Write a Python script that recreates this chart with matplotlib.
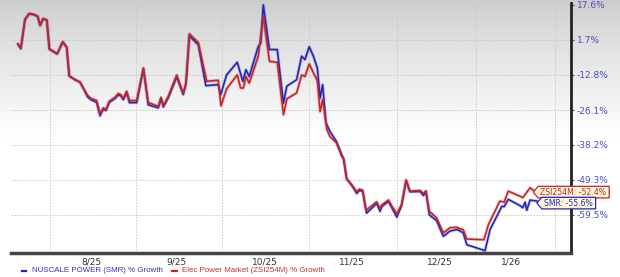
import numpy as np
import matplotlib
matplotlib.use("Agg")
import matplotlib.pyplot as plt
import matplotlib.patheffects as pe
from matplotlib.patches import Polygon
from matplotlib.lines import Line2D

# ---- data (x = days from mid July 2025, y = % growth) ----
smr_x = [2.5, 3.5, 5.0, 6.5, 8.0, 9.5, 10.4, 11.5, 12.8, 13.7, 16.5, 18.5, 19.9, 20.8,
         22.9, 24.6, 25.8, 27.3, 28.5, 30.6, 31.8, 33.0, 33.9, 35.1, 37.1, 38.3, 39.2,
         40.1, 41.3, 42.3, 44.9, 47.3, 49.0, 52.6, 53.6, 54.4, 56.2, 59.2, 61.5, 62.5,
         63.7, 66.9, 69.6, 74.0, 74.9, 77.0, 80.8, 82.8, 83.9, 85.1, 88.3, 89.2, 90.1,
         92.3, 95.1, 97.3, 98.5, 102.0, 103.8, 105.0, 106.5, 108.0, 109.4, 110.4, 111.3,
         112.5, 113.9, 116.3, 118.1, 118.7, 119.9, 121.7, 123.5, 124.4, 125.6, 127.0,
         130.6, 131.8, 132.4, 134.8, 136.0, 137.8, 139.5, 141.1, 142.5, 146.1, 147.3,
         148.2, 149.4, 152.0, 154.4, 156.8, 159.2, 160.4, 161.5, 162.8, 169.3, 171.1,
         175.3, 176.1, 177.6, 181.8, 182.8, 183.6, 184.2, 185.4, 187.8]
smr_pct = [-0.1, -2.0, 10.8, 13.5, 13.1, 12.3, 8.1, 11.2, 10.5, -2.2, -4.2, 0.9, -1.5, -13.2,
           -14.7, -15.6, -17.9, -21.2, -22.3, -23.3, -28.2, -25.7, -26.3, -23.3, -21.9, -20.6, -20.8,
           -22.3, -19.6, -23.4, -23.4, -10.3, -24.2, -25.3, -21.9, -25.0, -21.5, -13.6, -20.4, -16.2,
           3.5, -0.4, -17.0, -16.6, -20.4, -12.8, -7.7, -15.3, -10.7, -13.4, -1.1, 0.3, 17.6,
           -2.4, -2.4, -23.6, -17.2, -14.7, -5.2, -6.6, -1.2, -5.2, -10.0, -21.7, -16.6,
           -30.7, -33.6, -37.2, -41.4, -42.6, -49.0, -51.0, -53.4, -52.5, -52.8, -59.0,
           -56.3, -58.5, -57.2, -55.7, -57.5, -60.1, -56.9, -49.6, -52.9, -52.8, -54.0,
           -52.9, -59.5, -61.1, -65.3, -63.9, -63.5, -63.9, -64.4, -67.5, -69.0, -63.5,
           -57.1, -57.2, -55.1, -56.9, -57.5, -55.9, -58.2, -55.3, -55.6]

zsi_x = [2.5, 3.5, 5.0, 6.5, 8.0, 9.5, 10.4, 11.5, 12.8, 13.7, 16.5, 18.5, 19.9, 20.8,
         22.9, 24.6, 25.8, 27.3, 28.5, 30.6, 31.8, 33.0, 33.9, 35.1, 37.1, 38.3, 39.2,
         40.1, 41.3, 42.3, 44.9, 47.3, 49.0, 52.6, 53.6, 54.4, 56.2, 59.2, 61.5, 62.5,
         63.7, 66.9, 69.9, 74.0, 75.0, 77.0, 80.8, 82.0, 83.0, 83.9, 85.1, 88.3, 90.1,
         92.3, 95.1, 97.3, 98.5, 102.0, 103.8, 105.0, 106.5, 109.4, 110.4, 111.3, 112.8,
         113.9, 116.3, 118.1, 118.9, 119.9, 121.7, 123.5, 124.4, 125.6, 126.8, 130.6,
         131.8, 132.4, 134.8, 136.0, 137.8, 139.5, 141.1, 142.5, 146.1, 147.3, 148.2,
         149.4, 152.0, 154.4, 156.8, 159.2, 160.4, 161.5, 162.8, 168.9, 170.5, 174.6,
         176.1, 177.6, 181.8, 182.8, 183.6, 185.4, 186.5]
zsi_pct = [-0.1, -2.0, 10.8, 13.5, 13.1, 12.3, 8.1, 11.2, 10.5, -2.2, -4.2, 0.9, -1.5, -13.2,
           -14.7, -15.6, -17.9, -20.6, -21.8, -22.6, -27.5, -25.3, -26.0, -22.9, -21.5, -20.0, -20.4,
           -21.9, -19.1, -22.6, -22.6, -10.0, -23.3, -24.8, -21.4, -24.6, -21.0, -12.8, -20.0, -16.0,
           4.4, 0.6, -15.3, -14.9, -24.6, -18.2, -12.8, -17.9, -17.9, -13.4, -16.0, -5.2, 12.3,
           -7.3, -7.7, -27.8, -22.0, -19.8, -12.8, -13.4, -8.4, -15.1, -26.7, -22.3, -33.0,
           -35.4, -37.6, -41.9, -42.9, -49.1, -50.8, -52.9, -52.1, -52.4, -58.2, -55.8,
           -57.7, -56.7, -55.3, -57.0, -59.2, -56.6, -49.3, -52.7, -52.5, -53.4, -52.6,
           -58.5, -60.3, -64.4, -63.0, -62.9, -63.3, -63.5, -66.0, -66.2, -62.2, -55.6,
           -55.9, -52.7, -54.2, -54.6, -53.7, -51.7, -52.4]

month_starts = [13.9, 44.5, 75.25, 106.5, 137.75, 166.1, 194.3]
month_label_pos = [28.8, 59.2, 90.7, 121.7, 153.2, 178.5]
month_labels = ["8/25", "9/25", "10/25", "11/25", "12/25", "1/26"]
y_ticks = [17.6, 1.7, -12.8, -26.1, -38.2, -49.3, -59.5]

smr_name = "NUSCALE POWER (SMR) % Growth"
zsi_name = "Elec Power Market (ZSI254M) % Growth"
blue = "#2424b8"
red = "#c42428"

plt.rcParams["font.family"] = ["DejaVu Sans"]

W, H = 620, 277
fig = plt.figure(figsize=(W / 100, H / 100), dpi=100)

# background gradient over whole figure
bg = fig.add_axes([0, 0, 1, 1], zorder=-5)
grad = np.linspace(0, 1, 256)
shade = np.clip(grad / 0.5, 0, 1) ** 0.8
rgb = 0.80 + (1 - 0.80) * shade
img = np.dstack([rgb, rgb, rgb]).reshape(256, 1, 3)
bg.imshow(img, aspect="auto", extent=[0, 1, 1, 0], interpolation="bilinear")
bg.set_xlim(0, 1)
bg.set_ylim(1, 0)
bg.axis("off")

ax = fig.add_axes([11 / W, 24 / H, 560 / W, 250 / H])
ax.patch.set_alpha(0)

# log-like scale used by the source chart
fwd = lambda v: np.log(np.maximum(np.asarray(v, dtype=float) + 169.0, 1e-6))
inv = lambda u: np.exp(u) - 169.0
ax.set_yscale("function", functions=(fwd, inv))

glow = [pe.Stroke(linewidth=2.3, alpha=0.25), pe.Normal()]
ax.plot(smr_x, smr_pct, color=blue, lw=1.15, path_effects=glow, zorder=3)
ax.plot(zsi_x, zsi_pct, color=red, lw=1.15, path_effects=glow, zorder=4)

ax.set_xlim(0, 200)
ax.set_ylim(-69.6, 18.5)

ax.yaxis.tick_right()
ax.set_yticks(y_ticks, [f"{v}%" for v in y_ticks])
ax.yaxis.set_minor_locator(matplotlib.ticker.NullLocator())
ax.tick_params(axis="y", which="major", length=2.5, width=0.8, color="#555555",
               pad=1.5, labelsize=6.5, labelcolor="#4b4bc4")
ax.set_xticks(month_label_pos, month_labels)
ax.set_xticks(month_starts, minor=True)
ax.tick_params(axis="x", which="both", length=0, pad=3, labelsize=6.5,
               labelcolor="#333333")

ax.grid(True, axis="y", which="major", color="#c8c8c8", ls=(0, (1.5, 1.5)), lw=0.7)
ax.grid(True, axis="x", which="minor", color="#c8c8c8", ls=(0, (1.5, 1.5)), lw=0.7)
ax.grid(False, axis="x", which="major")

for s in ["left", "top"]:
    ax.spines[s].set_visible(False)
ax.spines["right"].set_color("#222222")
ax.spines["right"].set_linewidth(2)
ax.spines["bottom"].set_color("#444444")
ax.spines["bottom"].set_linewidth(2.5)

# end-of-line tag labels
renderer = fig.canvas.get_renderer()


def tag(x, y, text, color, dy):
    px, py = ax.transData.transform((x, y))
    py += dy
    t = fig.text(0, 0, text, fontsize=5.6, color=color, va="center", ha="left")
    t.set_position(((px + 7) / W, py / H))
    bb = t.get_window_extent(renderer)
    x1 = bb.x1 + 3
    h = 5.8
    poly = Polygon([(px, py), (px + 5, py + h), (x1, py + h), (x1, py - h), (px + 5, py - h)],
                   closed=True, transform=None, facecolor="#fdf7d8", edgecolor=color,
                   lw=0.9, zorder=5)
    fig.add_artist(poly)
    t.set_zorder(6)


tag(zsi_x[-1], zsi_pct[-1], f"ZSI254M: {zsi_pct[-1]}%", red, -2)
tag(smr_x[-1], smr_pct[-1], f"SMR: {smr_pct[-1]}%", blue, -2)

# legend
ly = 1 - 270.5 / H
lfont = ["Liberation Sans", "DejaVu Sans"]
fig.add_artist(Line2D([21.5 / W, 26 / W], [ly, ly], color=blue, lw=1.6))
fig.text(31.5 / W, ly, smr_name, fontsize=5.7, color="#3434b4", va="center", family=lfont)
fig.add_artist(Line2D([172.5 / W, 177 / W], [ly, ly], color=red, lw=1.6))
fig.text(181.5 / W, ly, zsi_name, fontsize=5.7, color="#c43030", va="center", family=lfont)

fig.savefig("out.png", dpi=100)
